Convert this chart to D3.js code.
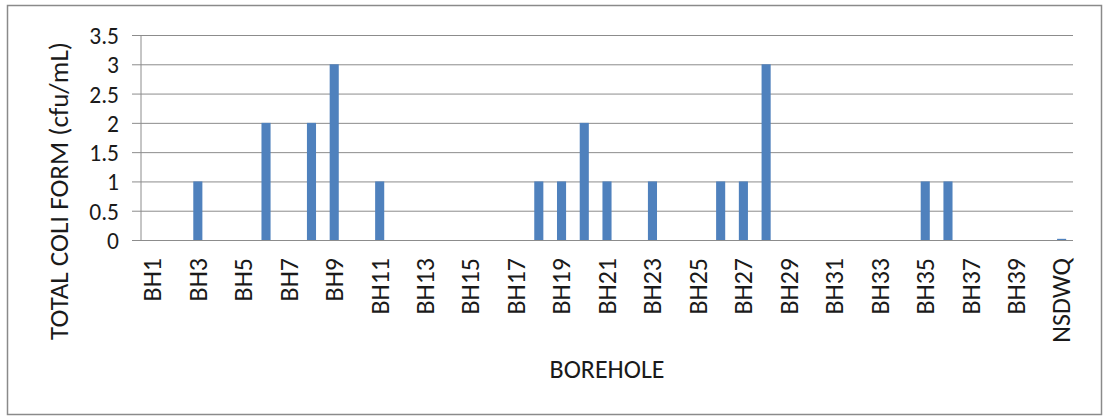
<!DOCTYPE html>
<html>
<head>
<meta charset="utf-8">
<script src="https://cdn.jsdelivr.net/npm/d3@7"></script>
<style>
  body { margin: 0; background: #fff; }
  text { font-family: Carlito, Lato, "Open Sans", sans-serif; fill: #1a1a1a; }
</style>
</head>
<body>
<div id="chart"></div>
<script>
const boreholes = ["BH1","BH2","BH3","BH4","BH5","BH6","BH7","BH8","BH9","BH10",
  "BH11","BH12","BH13","BH14","BH15","BH16","BH17","BH18","BH19","BH20",
  "BH21","BH22","BH23","BH24","BH25","BH26","BH27","BH28","BH29","BH30",
  "BH31","BH32","BH33","BH34","BH35","BH36","BH37","BH38","BH39","BH40","NSDWQ"];
const coliform = [0,0,1,0,0,2,0,2,3,0,
  1,0,0,0,0,0,0,1,1,2,
  1,0,1,0,0,1,1,3,0,0,
  0,0,0,0,1,1,0,0,0,0,0.02];
const yTicks = [0, 0.5, 1, 1.5, 2, 2.5, 3, 3.5];

(function () {
    let width = 1105, height = 416;
    let left = 141, right = 1073, top = 35, bottom = 240;
    let svg = d3.select("#chart")
        .append("svg")
        .attr("width", width)
        .attr("height", height);

    // outer chart frame
    svg.append("rect")
        .attr("x", 7.5).attr("y", 5.5)
        .attr("width", 1094).attr("height", 409)
        .attr("fill", "none")
        .attr("stroke", "#8a8a8a")
        .attr("stroke-width", 1.5);

    // font size that gives a string a wanted width
    function fitSize(str, w) {
        let probe = svg.append("text").attr("font-size", 26).text(str);
        let s = 26 * w / probe.node().getComputedTextLength();
        probe.remove();
        return s;
    }
    let fs = fitSize("BOREHOLE", 115);
    // ticks are 29px apart, keep their boxes from touching
    let fsTick = Math.min(fitSize("3.5", 35), 23.5);
    let fsTitle = fitSize("TOTAL COLI FORM (cfu/mL)", 298);

    let x = d3.scaleBand()
        .domain(boreholes)
        .range([left, right])
        .paddingInner(0.6)
        .paddingOuter(0.3);
    let y = d3.scaleLinear()
        .domain([0, 3.5])
        .range([bottom, top]);

    // gridlines + tick labels
    let yAxis = svg.append("g")
        .attr("transform", `translate(${left},0)`)
        .call(d3.axisLeft(y).tickValues(yTicks).tickSize(-(right - left)).tickSizeOuter(0).tickFormat(d3.format("")));
    yAxis.select(".domain").remove();
    yAxis.selectAll(".tick line")
        .attr("x1", -9)
        .attr("stroke", "#8c8c8c");
    yAxis.selectAll(".tick text")
        .attr("x", -22)
        .attr("dy", "0.36em")
        .attr("font-size", fsTick)
        .style("font-family", null)
        .attr("fill", "#1a1a1a");

    svg.append("line")
        .attr("x1", left).attr("x2", left)
        .attr("y1", top).attr("y2", bottom)
        .attr("stroke", "#8c8c8c");

    svg.selectAll(".bar")
        .data(coliform)
        .enter()
        .append("rect")
        .attr("x", (_, i) => x(boreholes[i]))
        .attr("y", d => y(d))
        .attr("width", x.bandwidth())
        .attr("height", d => bottom - y(d))
        .attr("fill", "#4f81bd");

    // rotated category labels, every other one
    svg.selectAll(".xlab")
        .data(boreholes.filter((_, i) => i % 2 === 0))
        .enter()
        .append("text")
        .attr("transform", d => `translate(${x(d) + x.bandwidth() / 2},258) rotate(-90)`)
        .attr("dy", "0.34em")
        .attr("text-anchor", "end")
        .attr("font-size", fs)
        .text(d => d);

    svg.append("text")
        .attr("x", (left + right) / 2)
        .attr("y", 378)
        .attr("text-anchor", "middle")
        .attr("font-size", fs)
        .text("BOREHOLE");

    svg.append("text")
        .attr("transform", "translate(68,191) rotate(-90)")
        .attr("text-anchor", "middle")
        .attr("font-size", fsTitle)
        .text("TOTAL COLI FORM (cfu/mL)");
})()
</script>
</body>
</html>
